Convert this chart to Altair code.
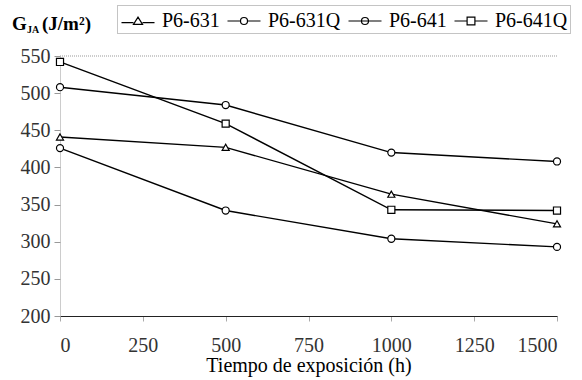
import altair as alt
import pandas as pd

series_names = ["P6-631", "P6-631Q", "P6-641", "P6-641Q"]
times = [0, 500, 1000, 1500]
p6_631 = [441, 427, 364, 324]
p6_631q = [508, 484, 420, 408]
p6_641 = [426, 342, 304, 293]
p6_641q = [542, 459, 343, 342]
x_ticks = [0, 250, 500, 750, 1000, 1250, 1500]
y_ticks = [200, 250, 300, 350, 400, 450, 500, 550]

rows = []
for name, vals in zip(series_names, [p6_631, p6_631q, p6_641, p6_641q]):
    for t, v in zip(times, vals):
        rows.append({"series": name, "t": t, "g": v})
df = pd.DataFrame(rows)

FONT = "Liberation Serif"

x_scale = alt.Scale(domain=[0, 1500], nice=False, zero=False)
y_scale = alt.Scale(domain=[200, 550], nice=False, zero=False)

x_axis = alt.Axis(values=x_ticks, title="Tiempo de exposición (h)", format="d",
                  labelFont=FONT, labelFontSize=20, labelColor="#333",
                  labelOverlap=False,
                  titleFont=FONT, titleFontSize=20, titleFontWeight="normal",
                  titleColor="black", titlePadding=0,
                  labelPadding=14, tickSize=5, tickColor="#aaa",
                  domainColor="#222", domainWidth=1.2, grid=False)
y_axis = alt.Axis(values=y_ticks, title=None, labelOverlap=False, format="d",
                  labelFont=FONT, labelFontSize=20, labelColor="#333",
                  labelPadding=4, tickSize=6, tickColor="#999",
                  domainColor="#999", domainDash=[1, 1], grid=False)

def xe():
    return alt.X("t:Q", scale=x_scale, axis=x_axis)

def ye():
    return alt.Y("g:Q", scale=y_scale, axis=y_axis)

base = alt.Chart(df)

lines = base.mark_line(color="black", strokeWidth=1.4).encode(
    x=xe(), y=ye(), detail="series:N")

points = base.mark_point(filled=True, fill="white", stroke="black",
                         strokeWidth=1.2, size=50, opacity=1).encode(
    x=xe(), y=ye(),
    shape=alt.Shape("series:N",
                    scale=alt.Scale(domain=series_names,
                                    range=["triangle-up", "circle", "circle", "square"]),
                    legend=None))

legend_paths = [
    "M-1.27,0.12H-0.35M0.35,0.12H1.27M0,-0.3L0.35,0.26L-0.35,0.26Z",
    "M-1.27,0H-0.27M0.27,0H1.27M0.27,0A0.27,0.27,0,1,1,-0.27,0A0.27,0.27,0,1,1,0.27,0Z",
    "M-1.27,0H1.27M0.27,0A0.27,0.27,0,1,1,-0.27,0A0.27,0.27,0,1,1,0.27,0Z",
    "M-1.27,0H-0.3M0.3,0H1.27M-0.3,-0.3H0.3V0.3H-0.3Z",
]

legend_layer = base.mark_point(filled=False, color="black", strokeWidth=1.2).encode(
    x=xe(), y=ye(),
    shape=alt.Shape("series:N",
                    scale=alt.Scale(domain=series_names, range=legend_paths),
                    legend=alt.Legend(title=None, orient="none", legendX=57, legendY=-51,
                                      direction="horizontal", columns=4,
                                      labelFont=FONT, labelFontSize=20, labelColor="black",
                                      labelOffset=10, columnPadding=5, symbolOffset=5,
                                      symbolSize=676, symbolStrokeColor="black",
                                      symbolFillColor="white", symbolStrokeWidth=1.2,
                                      symbolOpacity=1, fillColor="white"))
).transform_filter("false")

top_rule = alt.Chart(pd.DataFrame({"g": [550]})).mark_rule(
    color="#999", strokeDash=[1, 1], strokeWidth=1).encode(y=ye())

t_g = alt.Chart(pd.DataFrame({"s": ["G"]})).mark_text(
    font=FONT, fontSize=19, fontWeight="bold", align="left", baseline="alphabetic",
    color="black").encode(text="s:N", x=alt.value(-48), y=alt.value(-26))
t_sub = alt.Chart(pd.DataFrame({"s": ["JA"]})).mark_text(
    font=FONT, fontSize=10, fontWeight="bold", align="left", baseline="alphabetic",
    color="black").encode(text="s:N", x=alt.value(-33), y=alt.value(-23))
t_unit = alt.Chart(pd.DataFrame({"s": ["(J/m²)"]})).mark_text(
    font=FONT, fontSize=19, fontWeight="bold", align="left", baseline="alphabetic",
    color="black").encode(text="s:N", x=alt.value(-18), y=alt.value(-26))

chart = alt.layer(lines, top_rule, points, legend_layer, t_g, t_sub, t_unit).resolve_scale(
    shape="independent"
).properties(
    width=497, height=260,
    autosize=alt.AutoSizeParams(type="none"),
    padding={"left": 60, "top": 56, "right": 25, "bottom": 64},
    background="white",
).configure(font=FONT).configure_view(stroke=None).configure_axis(
    labelFont=FONT, titleFont=FONT
).configure_legend(
    strokeColor="#888", strokeDash=[1, 1], padding=2, cornerRadius=0, labelFont=FONT
)

chart.save("out.html", embed_options={"renderer": "svg", "actions": False})
